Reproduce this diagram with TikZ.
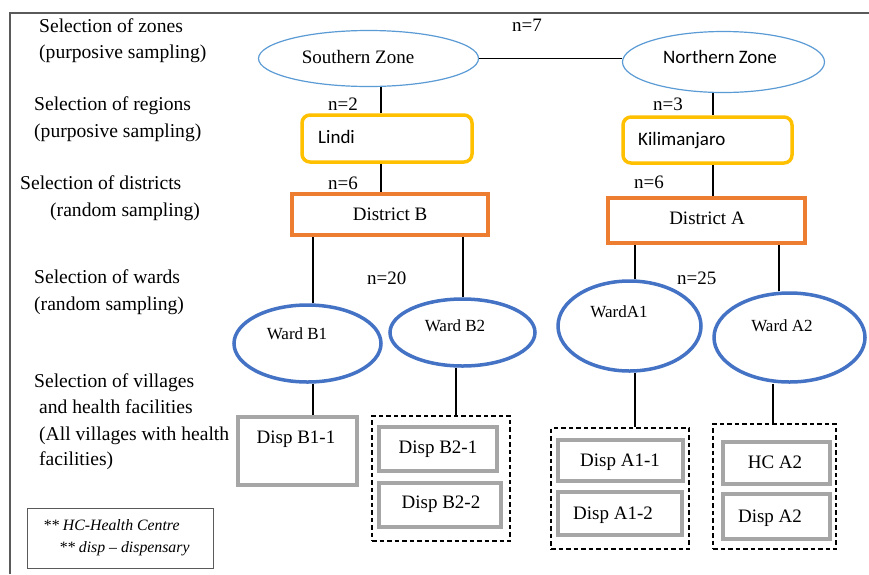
\documentclass[tikz,border=0pt]{standalone}
\usepackage{fontspec}
\setmainfont{Liberation Serif}
\newfontfamily\calib{Carlito}
\usetikzlibrary{shapes.geometric}
\definecolor{zoneblue}{HTML}{5B9BD5}
\definecolor{wardblue}{HTML}{4472C4}
\definecolor{regyel}{HTML}{FFC000}
\definecolor{distor}{HTML}{ED7D31}
\definecolor{boxgray}{HTML}{A6A6A6}
\definecolor{framegray}{HTML}{5A5A5A}
\tikzset{
  txt/.style={inner sep=0pt, font=\fontsize{19}{23}\selectfont},
  ltxt/.style={inner sep=0pt, font=\fontsize{19.6}{23}\selectfont},
  wtxt/.style={inner sep=0pt, font=\fontsize{17}{21}\selectfont},
  ctxt/.style={inner sep=0pt, font=\calib\fontsize{19}{23}\selectfont},
  legtxt/.style={inner sep=0pt, font=\itshape\fontsize{15.8}{18}\selectfont},
  zone/.style={ellipse, draw=zoneblue, line width=1.2pt, inner sep=0pt},
  ward/.style={ellipse, draw=wardblue, line width=3.5pt, inner sep=0pt},
  region/.style={rectangle, rounded corners=8pt, draw=regyel, line width=3.5pt, inner sep=0pt},
  district/.style={rectangle, draw=distor, line width=3.5pt, inner sep=0pt},
  facility/.style={rectangle, draw=boxgray, line width=3.5pt, inner sep=0pt},
  group/.style={rectangle, draw=black, dash pattern=on 4.5pt off 3pt, line width=1.3pt, inner sep=0pt},
  legend/.style={rectangle, draw=framegray, line width=1pt, inner sep=0pt},
  conn/.style={draw=black, line width=1.3pt},
}
\begin{document}
\begin{tikzpicture}[x=1pt, y=-1pt]
\useasboundingbox (0,0) rectangle (869,574);
\fill[white] (0,0) rectangle (869,574);
% frame
\draw[framegray, line width=1.3pt] (869,13) -- (10,13) -- (10,574);

% left labels
\node[ltxt, anchor=base west] (l1a) at (39,32) {Selection of zones};
\node[ltxt, anchor=base west] (l1b) at (39,58) {(purposive sampling)};
\node[ltxt, anchor=base west] (l2a) at (34,110) {Selection of regions};
\node[ltxt, anchor=base west] (l2b) at (34,137) {(purposive sampling)};
\node[ltxt, anchor=base west] (l3a) at (20,189) {Selection of districts};
\node[ltxt, anchor=base west] (l3b) at (50,216) {(random sampling)};
\node[ltxt, anchor=base west] (l4a) at (34,283) {Selection of wards};
\node[ltxt, anchor=base west] (l4b) at (34,310) {(random sampling)};
\node[ltxt, anchor=base west] (l5a) at (34,387) {Selection of villages};
\node[ltxt, anchor=base west] (l5b) at (39,413) {and health facilities};
\node[ltxt, anchor=base west] (l5c) at (39,440) {(All villages with health};
\node[ltxt, anchor=base west] (l5d) at (39,465) {facilities)};

% zones
\node[zone, minimum width=220pt, minimum height=56pt] (sz) at (368.5,58.5) {};
\node[zone, minimum width=202pt, minimum height=61pt] (nz) at (723.5,62) {};
\node[txt, anchor=base] (szt) at (358,63) {Southern Zone};
\node[ctxt, anchor=base] (nzt) at (720,63) {Northern Zone};

% regions
\node[region, minimum width=170pt, minimum height=47pt] (lindi) at (387,138.5) {};
\node[region, minimum width=169pt, minimum height=46pt] (kili) at (707.5,140) {};
\node[ctxt, anchor=base west] (lindit) at (318,143) {Lindi};
\node[ctxt, anchor=base west] (kilit) at (638,145) {Kilimanjaro};

% districts
\node[district, minimum width=196pt, minimum height=41pt] (db) at (390,214.5) {};
\node[district, minimum width=197pt, minimum height=45pt] (da) at (706.5,220.5) {};
\node[txt, anchor=base] (dbt) at (390,220) {District B};
\node[txt, anchor=base] (dat) at (707,224) {District A};

% wards
\node[ward, minimum width=147pt, minimum height=77pt] (wb1) at (307.5,343.5) {};
\node[ward, minimum width=145pt, minimum height=67pt] (wb2) at (462.5,332.5) {};
\node[ward, minimum width=143pt, minimum height=90pt] (wa1) at (629.5,326) {};
\node[ward, minimum width=151pt, minimum height=89pt] (wa2) at (789.5,337.5) {};
\node[wtxt, anchor=base] (wb1t) at (297,339) {Ward B1};
\node[wtxt, anchor=base] (wb2t) at (455,331) {Ward B2};
\node[wtxt, anchor=base] (wa1t) at (619,317) {WardA1};
\node[wtxt, anchor=base] (wa2t) at (782,331) {Ward A2};

% facility groups
\node[group, minimum width=138pt, minimum height=125pt] (gb2) at (441,478.5) {};
\node[group, minimum width=138pt, minimum height=121pt] (ga1) at (620,488.5) {};
\node[group, minimum width=123pt, minimum height=125pt] (ga2) at (774.5,486.5) {};

% facilities
\node[facility, minimum width=119pt, minimum height=68pt] (b11) at (297.5,451) {};
\node[facility, minimum width=118pt, minimum height=44pt] (b21) at (438,449) {};
\node[facility, minimum width=122pt, minimum height=44pt] (b22) at (440,505) {};
\node[facility, minimum width=125pt, minimum height=41pt] (a11) at (620.5,460.5) {};
\node[facility, minimum width=124pt, minimum height=43pt] (a12) at (620,513.5) {};
\node[facility, minimum width=107pt, minimum height=42pt] (hca2) at (776.5,463) {};
\node[facility, minimum width=107pt, minimum height=45pt] (da2) at (776.5,516.5) {};
\node[txt, anchor=base] (b11t) at (296,443) {Disp B1-1};
\node[txt, anchor=base] (b21t) at (438,453) {Disp B2-1};
\node[txt, anchor=base] (b22t) at (441,508) {Disp B2-2};
\node[txt, anchor=base] (a11t) at (620,466) {Disp A1-1};
\node[txt, anchor=base] (a12t) at (613,519) {Disp A1-2};
\node[txt, anchor=base] (hca2t) at (775,468) {HC A2};
\node[txt, anchor=base] (da2t) at (770,522) {Disp A2};

% n labels
\node[txt, anchor=base west] (n7) at (512,31) {n=7};
\node[txt, anchor=base west] (n2) at (328,110) {n=2};
\node[txt, anchor=base west] (n6b) at (328,189) {n=6};
\node[txt, anchor=base west] (n3) at (653,110) {n=3};
\node[txt, anchor=base west] (n6a) at (634,188) {n=6};
\node[txt, anchor=base west] (n20) at (367,284) {n=20};
\node[txt, anchor=base west] (n25) at (677,284) {n=25};

% legend
\node[legend, minimum width=186pt, minimum height=60pt] (leg) at (120,538) {};
\node[legtxt, anchor=base west] (leg1) at (43,530) {** HC-Health Centre};
\node[legtxt, anchor=base west] (leg2) at (59,552) {** disp -- dispensary};

% connectors
\draw[conn] (sz.east) -- (sz.east -| nz.west);
\draw[conn] ([xshift=-6pt]lindi.north) -- ([xshift=-6pt]lindi.north |- sz.south);
\draw[conn] ([xshift=5.5pt]kili.north) -- ([xshift=5.5pt]kili.north |- nz.south);
\draw[conn] ([xshift=-6pt]lindi.south) -- ([xshift=-6pt]lindi.south |- db.north);
\draw[conn] ([xshift=5.5pt]kili.south) -- ([xshift=5.5pt]kili.south |- da.north);
\draw[conn] ([xshift=5.5pt]wb1.north) -- ([xshift=5.5pt]wb1.north |- db.south);
\draw[conn] ([xshift=0.5pt]wb2.north) -- ([xshift=0.5pt]wb2.north |- db.south);
\draw[conn] ([xshift=5.5pt]wa1.north) -- ([xshift=5.5pt]wa1.north |- da.south);
\draw[conn] ([xshift=-10.5pt]wa2.north) -- ([xshift=-10.5pt]wa2.north |- da.south);
\draw[conn] ([xshift=5.5pt]wb1.south) -- ([xshift=5.5pt]wb1.south |- b11.north);
\draw[conn] ([xshift=-6.5pt]wb2.south) -- ([xshift=-6.5pt]wb2.south |- gb2.north);
\draw[conn] ([xshift=5.5pt]wa1.south) -- ([xshift=5.5pt]wa1.south |- ga1.north);
\draw[conn] ([xshift=-16.5pt]wa2.south) -- ([xshift=-16.5pt]wa2.south |- ga2.north);
\end{tikzpicture}
\end{document}
